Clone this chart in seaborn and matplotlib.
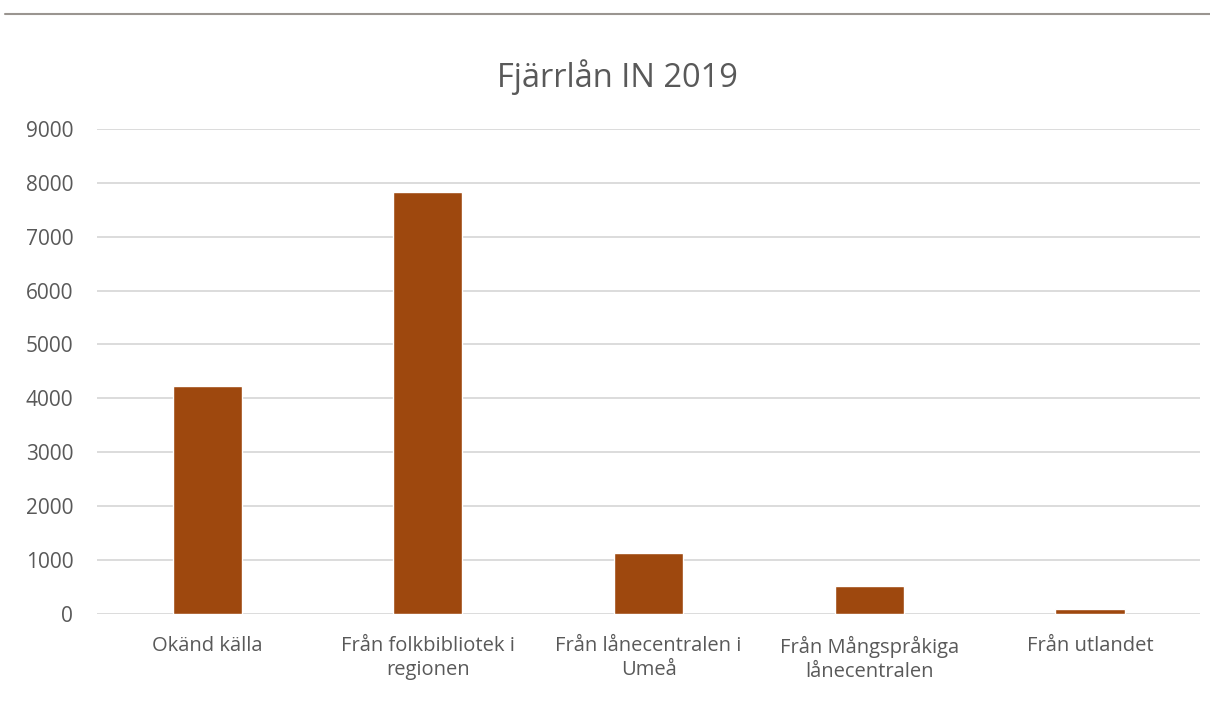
import matplotlib
matplotlib.use("Agg")
import matplotlib.pyplot as plt
from matplotlib.lines import Line2D
import seaborn as sns
import pandas as pd

categories = [
    "Okänd källa",
    "Från folkbibliotek i\nregionen",
    "Från lånecentralen i\nUmeå",
    "Från Mångspråkiga\nlånecentralen",
    "Från utlandet",
]
values = [4230, 7830, 1120, 515, 80]
yticks = [0, 1000, 2000, 3000, 4000, 5000, 6000, 7000, 8000, 9000]
title = "Fjärrlån IN 2019"

bar_color = "#9E480E"
text_color = "#595959"
grid_color = "#D9D9D9"

sns.set_theme(style="white")
plt.rcParams["font.family"] = ["Open Sans", "DejaVu Sans"]

df = pd.DataFrame({"kategori": categories, "antal": values})

fig = plt.figure(figsize=(12.1, 7.19), dpi=100)
ax = fig.add_axes([0.080, 0.1465, 0.912, 0.674])

sns.barplot(data=df, x="kategori", y="antal", color=bar_color,
            width=0.313, saturation=1, ax=ax, zorder=3)

ax.set_ylim(0, 9000)
ax.set_yticks(yticks)
ax.set_yticklabels([str(t) for t in yticks])
ax.set_xlim(-0.5, len(categories) - 0.5)
ax.grid(axis="y", color=grid_color, linewidth=1.3, zorder=0)
ax.grid(axis="x", visible=False)
for s in ax.spines.values():
    s.set_visible(False)

ax.set_xlabel("")
ax.set_ylabel("")
ax.tick_params(axis="both", length=0, colors=text_color)
ax.tick_params(axis="y", pad=17, labelsize=15)
ax.tick_params(axis="x", pad=16, labelsize=14.5)
for lbl in ax.get_xticklabels():
    lbl.set_linespacing(1.3)

fig.text(0.51, 0.893, title, ha="center", va="center",
         fontsize=23.5, color=text_color)

# thin rule across the top of the figure
fig.add_artist(Line2D([0.004, 1.0], [1 - 13.5 / 719, 1 - 13.5 / 719],
                      transform=fig.transFigure, color="#9A9590", linewidth=1.5))

fig.savefig("out.png", dpi=100, facecolor="white")
